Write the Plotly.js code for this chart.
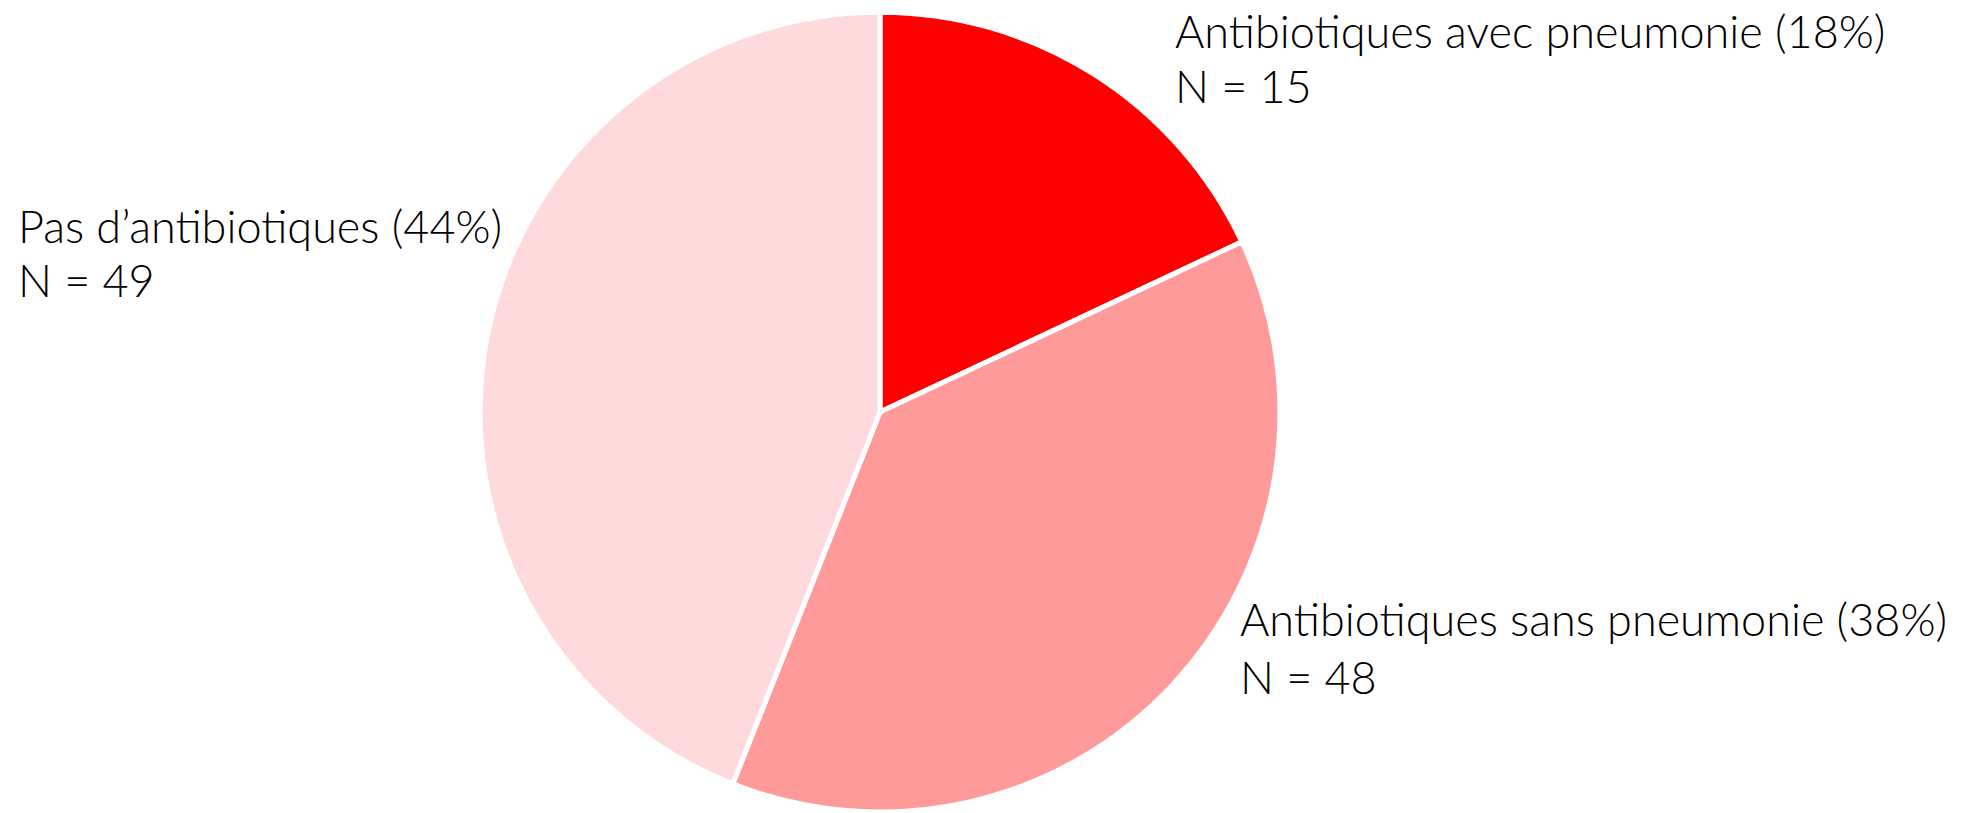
<!DOCTYPE html>
<html>
<head>
<meta charset="utf-8">
<script src="https://cdn.plot.ly/plotly-3.0.1.min.js"></script>
<style>html,body{margin:0;padding:0;background:#fff;}#chart{width:1972px;height:813px;}</style>
</head>
<body>
<div id="chart"></div>
<script>
const categories = ["Antibiotiques avec pneumonie", "Antibiotiques sans pneumonie", "Pas d\u2019antibiotiques"];
const percentages = [18, 38, 44];
const counts = [15, 48, 49];
const colors = ["#FF0000", "#FF9A9A", "#FEDADC"];

// label anchor positions (paper coords): [x, y of first line, y of second line]
const labelPos = [
  [0.5950, 0.9619, 0.8945],
  [0.6280, 0.2392, 0.1678],
  [0.0083, 0.7223, 0.6559]
];

const trace = {
  type: "pie",
  labels: categories,
  values: percentages,
  sort: false,
  direction: "clockwise",
  rotation: 0,
  textinfo: "none",
  hoverinfo: "label+percent",
  marker: { colors: colors, line: { color: "#FFFFFF", width: 5 } },
  domain: { x: [0.2434, 0.6491], y: [0.0012, 0.985] },
  showlegend: false
};

const font = { family: "Lato, 'Open Sans', sans-serif", size: 45, color: "#000000", weight: 300 };
const annotations = [];
categories.forEach((c, i) => {
  annotations.push({
    xref: "paper", yref: "paper", x: labelPos[i][0], y: labelPos[i][1],
    xanchor: "left", yanchor: "middle", showarrow: false,
    text: c + " (" + percentages[i] + "%)", font: font
  });
  annotations.push({
    xref: "paper", yref: "paper", x: labelPos[i][0], y: labelPos[i][2],
    xanchor: "left", yanchor: "middle", showarrow: false,
    text: "N = " + counts[i], font: font
  });
});

const layout = {
  width: 1972, height: 813,
  margin: { l: 0, r: 0, t: 0, b: 0 },
  paper_bgcolor: "#FFFFFF",
  plot_bgcolor: "#FFFFFF",
  annotations: annotations
};

Plotly.newPlot("chart", [trace], layout, { displayModeBar: false, staticPlot: true });
</script>
</body>
</html>
